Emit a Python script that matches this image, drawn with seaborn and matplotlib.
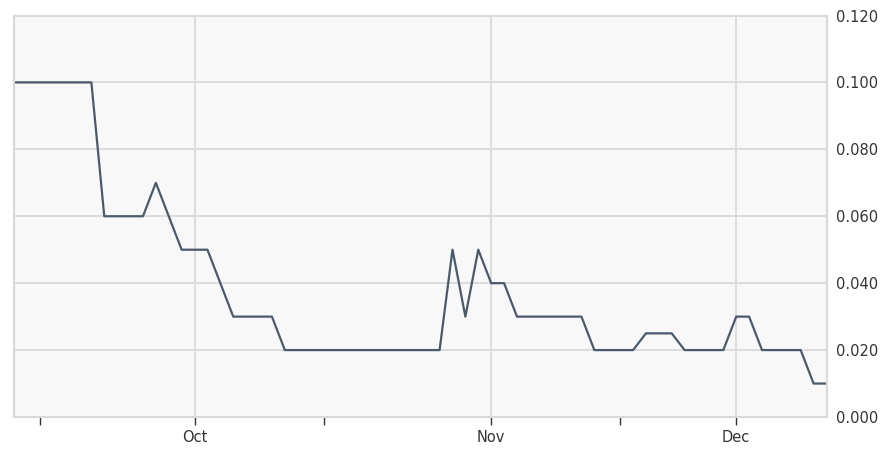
import matplotlib
matplotlib.use("Agg")
import matplotlib.pyplot as plt
import matplotlib.ticker as mticker
import numpy as np
import pandas as pd
import seaborn as sns

# --- data: one point per trading session (US calendar, Thanksgiving closed) ---
SESSIONS = pd.bdate_range("2014-09-11", "2014-12-10", freq="C", holidays=["2014-11-27"])
PRICES = [
    0.100, 0.100, 0.100, 0.100, 0.100, 0.100, 0.100,
    0.060, 0.060, 0.060, 0.060, 0.070, 0.060,
    0.050, 0.050, 0.050, 0.040,
    0.030, 0.030, 0.030, 0.030,
    0.020, 0.020, 0.020, 0.020, 0.020, 0.020, 0.020, 0.020, 0.020, 0.020,
    0.020, 0.020, 0.020,
    0.050, 0.030, 0.050, 0.040, 0.040,
    0.030, 0.030, 0.030, 0.030, 0.030, 0.030,
    0.020, 0.020, 0.020, 0.020,
    0.025, 0.025, 0.025,
    0.020, 0.020, 0.020, 0.020,
    0.030, 0.030,
    0.020, 0.020, 0.020, 0.020,
    0.010, 0.010,
]
Y_TICKS = [0.0, 0.02, 0.04, 0.06, 0.08, 0.10, 0.12]

# --- colours ---
_LINE = "#4b5a6a"
_PLOT_BG = "#f8f8f8"
_GRID = "#d9d9d9"
_TEXT = "#333333"

df = pd.DataFrame({"pos": np.arange(len(SESSIONS)), "date": SESSIONS, "price": PRICES})

# major ticks at first session of a month, minor at first session from the 15th
month_start = df.index[df["date"].dt.month.diff().fillna(0) != 0]
mid_month = df[df["date"].dt.day >= 15].groupby(df["date"].dt.month).head(1).index

sns.set_style("white")
plt.rcParams["font.family"] = ["DejaVu Sans"]

fig = plt.figure(figsize=(8.96, 4.49), dpi=100)
ax = fig.add_axes([14 / 896, 1 - 417 / 449, (826.5 - 14) / 896, (417 - 15.5) / 449])
ax.set_facecolor(_PLOT_BG)

sns.lineplot(data=df, x="pos", y="price", ax=ax, color=_LINE, linewidth=1.6)

ax.set_xlim(0, len(df) - 1)
ax.set_ylim(0, 0.12)
ax.set_xlabel("")
ax.set_ylabel("")

ax.xaxis.set_major_locator(mticker.FixedLocator(month_start))
ax.xaxis.set_minor_locator(mticker.FixedLocator(mid_month))
ax.set_xticklabels([d.strftime("%b") for d in df.loc[month_start, "date"]])
ax.yaxis.set_major_locator(mticker.FixedLocator(Y_TICKS))
ax.yaxis.set_major_formatter(mticker.FormatStrFormatter("%.3f"))
ax.yaxis.tick_right()

ax.tick_params(axis="x", which="both", length=6, width=1, color=_TEXT, direction="out",
               labelsize=10.5, labelcolor=_TEXT, pad=3, bottom=True)
ax.tick_params(axis="y", length=0, labelsize=10.5, labelcolor=_TEXT, pad=7)

ax.grid(True, which="major", color=_GRID, linewidth=1.3)
ax.set_axisbelow(True)
for spine in ax.spines.values():
    spine.set_visible(True)
    spine.set_color(_GRID)
    spine.set_linewidth(1.5)

fig.savefig("out.png", dpi=100, facecolor="white")
